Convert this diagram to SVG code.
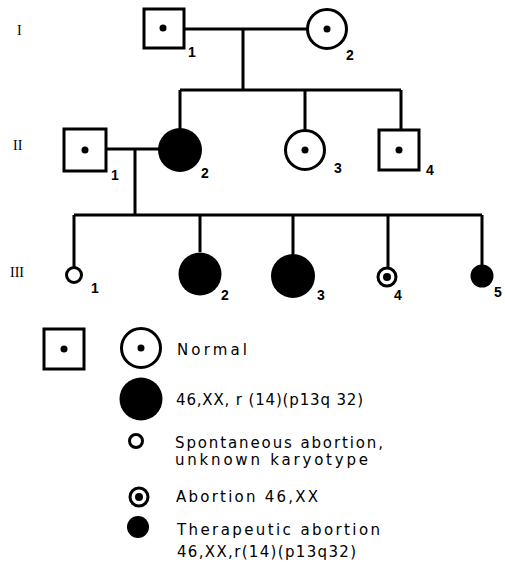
<svg xmlns="http://www.w3.org/2000/svg" width="505" height="562" viewBox="0 0 505 562">
<style>
.ln{stroke:#000;stroke-width:3;fill:none}
.sym{stroke:#000;stroke-width:3;fill:#fff}
.fill{fill:#000}
.num{font-family:"Liberation Sans",Arial,sans-serif;font-size:14px;font-weight:bold;fill:#000}
.gen{font-family:"Liberation Serif","Times New Roman",serif;font-size:14px;fill:#000}
.leg{font-family:"DejaVu Sans",Verdana,sans-serif;font-size:15px;fill:#000}
</style>
<rect width="505" height="562" fill="#fff"/>
<g id="gen-labels">
<text class="gen" x="17" y="35">I</text>
<text class="gen" x="13" y="150">II</text>
<text class="gen" x="10" y="277">III</text>
</g>
<g id="connectors">
<path class="ln" d="M184 29H307M243 29V90M180 90H401M180 90V129M305 90V130M401 90V130"/>
<path class="ln" d="M106 149H159M135 149V215M74 215H482M74 215V267M200 215V252M293 215V254M388 215V267M482 215V265"/>
</g>
<g id="I-1"><rect class="sym" x="144" y="9" width="40" height="39"/><circle class="fill" cx="163" cy="28" r="3.5"/><text class="num" x="188" y="57">1</text></g>
<g id="I-2"><circle class="sym" cx="327" cy="29" r="19.5"/><circle class="fill" cx="327" cy="29" r="3.5"/><text class="num" x="346" y="60">2</text></g>
<g id="II-1"><rect class="sym" x="64" y="129" width="42" height="42"/><circle class="fill" cx="85" cy="150" r="3.5"/><text class="num" x="111" y="180">1</text></g>
<g id="II-2"><circle class="fill" cx="180" cy="150" r="22"/><text class="num" x="201" y="178">2</text></g>
<g id="II-3"><circle class="sym" cx="305" cy="150" r="19.5"/><circle class="fill" cx="305" cy="150" r="3.5"/><text class="num" x="334" y="173">3</text></g>
<g id="II-4"><rect class="sym" x="379" y="130" width="40" height="40"/><circle class="fill" cx="399" cy="150" r="3.5"/><text class="num" x="426" y="175">4</text></g>
<g id="III-1"><circle class="sym" cx="74" cy="275" r="7.5"/><text class="num" x="91" y="293">1</text></g>
<g id="III-2"><circle class="fill" cx="200" cy="274" r="21.5"/><text class="num" x="221" y="300">2</text></g>
<g id="III-3"><circle class="fill" cx="293" cy="276" r="22"/><text class="num" x="317" y="300">3</text></g>
<g id="III-4"><circle class="sym" cx="387" cy="277" r="9"/><circle class="fill" cx="387" cy="277" r="4"/><text class="num" x="394" y="300">4</text></g>
<g id="III-5"><circle class="fill" cx="482" cy="276" r="11.5"/><text class="num" x="494" y="297">5</text></g>
<g id="legend">
<rect class="sym" x="44" y="329" width="40" height="40"/><circle class="fill" cx="64" cy="349" r="3.5"/>
<circle class="sym" cx="141" cy="348" r="19.5"/><circle class="fill" cx="141" cy="348" r="3.5"/>
<text class="leg" x="177" y="355" textLength="70" lengthAdjust="spacing">Normal</text>
<circle class="fill" cx="141" cy="399" r="21.5"/>
<text class="leg" x="176" y="405" textLength="187" lengthAdjust="spacing">46,XX, r (14)(p13q 32)</text>
<circle class="sym" cx="136" cy="441" r="6.5"/>
<text class="leg" x="175" y="448" textLength="208" lengthAdjust="spacing">Spontaneous  abortion,</text>
<text class="leg" x="175" y="465" textLength="193" lengthAdjust="spacing">unknown  karyotype</text>
<circle class="sym" cx="139" cy="497" r="9"/><circle class="fill" cx="139" cy="497" r="4"/>
<text class="leg" x="176" y="502" textLength="142" lengthAdjust="spacing">Abortion  46,XX</text>
<circle class="fill" cx="138" cy="527" r="11"/>
<text class="leg" x="177" y="535" textLength="203" lengthAdjust="spacing">Therapeutic  abortion</text>
<text class="leg" x="177" y="557" textLength="179" lengthAdjust="spacing">46,XX,r(14)(p13q32)</text>
</g>
</svg>
